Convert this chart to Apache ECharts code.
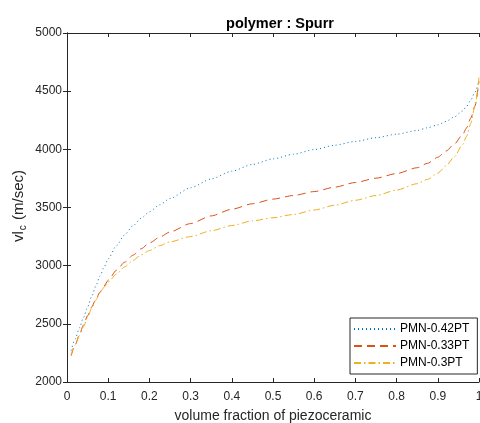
<!DOCTYPE html>
<html>
<head>
<meta charset="utf-8">
<script src="https://cdn.jsdelivr.net/npm/echarts@6/dist/echarts.min.js"></script>
<style>html,body{margin:0;padding:0;background:#fff;overflow:hidden}#c{width:480px;height:423px}</style>
</head>
<body>
<div id="c"></div>
<script>
var xs = [0.01,0.02,0.03,0.04,0.05,0.06,0.07,0.08,0.09,0.1,0.12,0.14,0.16,0.18,0.2,0.225,0.25,0.3,0.35,0.4,0.45,0.5,0.55,0.6,0.65,0.7,0.75,0.8,0.85,0.875,0.9,0.92,0.94,0.96,0.97,0.98,0.99,1.0];
var pmn042 = [2270,2370,2465,2555,2645,2735,2825,2910,2988,3058,3172,3265,3343,3408,3463,3523,3578,3670,3745,3812,3870,3918,3958,3998,4035,4068,4100,4130,4162,4185,4210,4240,4278,4330,4370,4422,4490,4590];
var pmn033 = [2225,2320,2405,2490,2570,2645,2712,2772,2826,2875,2960,3030,3090,3145,3195,3245,3290,3362,3428,3485,3532,3572,3603,3637,3675,3715,3752,3792,3842,3880,3932,3985,4045,4125,4185,4268,4370,4585];
var pmn030 = [2235,2320,2398,2475,2555,2635,2705,2765,2815,2858,2928,2990,3045,3092,3130,3172,3205,3250,3300,3345,3385,3412,3440,3478,3520,3562,3603,3650,3705,3742,3795,3858,3935,4040,4112,4222,4370,4620];
var names = ['PMN-0.42PT','PMN-0.33PT','PMN-0.3PT'];
var xTicks = {min:0, max:1, interval:0.1};
var yTicks = {min:2000, max:5000, interval:500};

function pairs(ys){ return xs.map(function(x,i){ return [x, ys[i]]; }); }
var font = 'Liberation Sans, Arial, sans-serif';
var axisColor = '#262626';

var chart = echarts.init(document.getElementById('c'), null, {renderer:'canvas'});
chart.setOption({
  animation:false,
  backgroundColor:'#fff',
  textStyle:{fontFamily:font},
  title:{text:'polymer : Spurr', left:275, top:11, textAlign:'center',
    textStyle:{fontSize:14.5, fontWeight:'bold', color:'#000', fontFamily:font}},
  grid:{left:67, width:412, top:33, height:349, containLabel:false, outerBoundsMode:'none'},
  legend:{
    orient:'vertical', left:350, top:318, width:128,
    backgroundColor:'#fff', borderColor:axisColor, borderWidth:1,
    padding:[5,8,5,3], itemGap:5, itemWidth:42, itemHeight:12,
    itemStyle:{opacity:0},
    textStyle:{fontSize:12, color:'#000', fontFamily:font, padding:[0,0,0,-1]},
    data:names
  },
  xAxis:[{
    type:'value', min:xTicks.min, max:xTicks.max, interval:xTicks.interval,
    name:'volume fraction of piezoceramic', nameLocation:'middle', nameGap:27,
    nameTextStyle:{fontSize:14, color:axisColor, fontFamily:font},
    axisLine:{show:true, lineStyle:{color:axisColor, width:1}},
    axisTick:{show:true, inside:true, length:4, lineStyle:{color:axisColor}},
    axisLabel:{fontSize:12, color:axisColor, margin:9, fontFamily:font},
    splitLine:{show:false}
  },{
    type:'value', position:'top', min:xTicks.min, max:xTicks.max, interval:xTicks.interval,
    axisLine:{show:true, lineStyle:{color:axisColor, width:1}},
    axisTick:{show:true, inside:true, length:4, lineStyle:{color:axisColor}},
    axisLabel:{show:false}, splitLine:{show:false}
  }],
  yAxis:[{
    type:'value', min:yTicks.min, max:yTicks.max, interval:yTicks.interval,
    axisLine:{show:true, lineStyle:{color:axisColor, width:1}},
    axisTick:{show:true, inside:true, length:4, lineStyle:{color:axisColor}},
    axisLabel:{fontSize:12, color:axisColor, margin:5, fontFamily:font,
      formatter:function(v){ return String(v); }},
    splitLine:{show:false}
  },{
    type:'value', position:'right', min:yTicks.min, max:yTicks.max, interval:yTicks.interval,
    axisLine:{show:true, lineStyle:{color:axisColor, width:1}},
    axisTick:{show:true, inside:true, length:4, lineStyle:{color:axisColor}},
    axisLabel:{show:false}, splitLine:{show:false}
  }],
  graphic:[{
    type:'text', left:11, top:170, rotation:Math.PI/2,
    style:{
      text:'{n|vl}{s|c}{n| (m/sec)}',
      rich:{
        n:{fontSize:15, fill:axisColor, fontFamily:font},
        s:{fontSize:10, fill:axisColor, fontFamily:font, padding:[10,1,0,1]}
      }
    }
  }],
  series:[
    {name:names[0], type:'line', data:pairs(pmn042), smooth:0.25, smoothMonotone:'x', symbol:'none',
     lineStyle:{color:'#0072BD', width:1, type:[1,3]}, itemStyle:{color:'#0072BD'}},
    {name:names[1], type:'line', data:pairs(pmn033), smooth:0.25, smoothMonotone:'x', symbol:'none',
     lineStyle:{color:'#D95319', width:1, type:[8,5]}, itemStyle:{color:'#D95319'}},
    {name:names[2], type:'line', data:pairs(pmn030), smooth:0.25, smoothMonotone:'x', symbol:'none',
     lineStyle:{color:'#EDB120', width:1, type:[7,3,1.5,3]}, itemStyle:{color:'#EDB120'}}
  ]
});
</script>
</body>
</html>
